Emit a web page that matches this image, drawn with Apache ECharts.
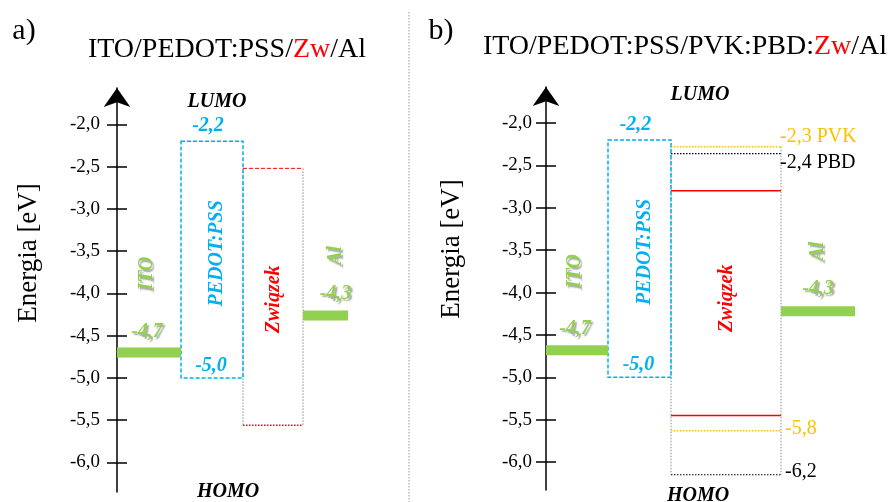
<!DOCTYPE html>
<html>
<head>
<meta charset="utf-8">
<script src="https://cdn.jsdelivr.net/npm/echarts@6/dist/echarts.min.js"></script>
<style>
  html, body { margin: 0; padding: 0; background: #fff; }
  #energyChart { width: 888px; height: 502px; }
</style>
</head>
<body>
<div id="energyChart"></div>
<script>
  // energy levels in eV, as drawn in the figure
  const yTicks = [-6.0, -5.5, -5.0, -4.5, -4.0, -3.5, -3.0, -2.5, -2.0];
  const itoLevel = [-4.7, -4.68];      // panel a, panel b
  const alLevel = [-4.26, -4.22];
  const pedotLevels = [-2.2, -5.0];    // LUMO, HOMO
  const zwLevelsA = [-2.52, -5.56];
  const zwLevelsB = [-2.8, -5.45];
  const pvkLevels = [-2.28, -5.63];
  const pbdLevels = [-2.36, -6.15];
  const levelTexts = ['-4,7', '-4,3', '-2,2', '-5,0', '-2,3 PVK', '-2,4 PBD', '-5,8', '-6,2'];
  const layerNames = ['ITO', 'PEDOT:PSS', 'Związek', 'Al'];

  const GREEN = '#92d050', BLUE = '#00b0f0', RED = '#ff0000', YELLOW = '#ffc000', GRAY = '#8c8c8c';
  const SERIF = '"Liberation Serif", "Times New Roman", serif';

  // column edges (x axis units = px from the energy axis)
  const colsA = { ito: [0, 64], pedot: [64, 126], zw: [126, 186], al: [186, 231] };
  const colsB = { ito: [0, 62], pedot: [62, 125], zw: [125, 235], al: [235, 309] };
  const mid = c => (c[0] + c[1]) / 2;

  const grayDot = { stroke: GRAY, lineWidth: 1, lineDash: [1.5, 1.5] };
  const labelFont = 'italic bold 20px ' + SERIF;
  const shadow = { textShadowColor: 'rgba(0,0,0,0.35)', textShadowBlur: 1.5, textShadowOffsetX: 2, textShadowOffsetY: 2 };

  function panelShapes(c, ito, al, zw, extra) {
    let list = [
      { t: 'vline', x: c.zw[0], y: zw.span, style: grayDot },
      { t: 'vline', x: c.zw[1], y: zw.span, style: grayDot }
    ];
    list = list.concat(extra);
    list.push(
      { t: 'box', x: c.pedot, y: pedotLevels, style: { stroke: BLUE, lineWidth: 1.5, lineDash: [4, 2] } },
      { t: 'bar', x: c.ito, y: ito },
      { t: 'bar', x: c.al, y: al },
      { t: 'text', x: mid(c.ito), y: ito, dx: -2, dy: -21, text: levelTexts[0], color: GREEN, shadow: true },
      { t: 'text', x: mid(c.ito), y: ito, dx: -2, dy: -79, text: layerNames[0], color: GREEN, shadow: true, rot: true },
      { t: 'text', x: mid(c.pedot), y: pedotLevels[0], dx: -4, dy: -15, text: levelTexts[2], color: BLUE },
      { t: 'text', x: mid(c.pedot), y: pedotLevels[1], dx: -1, dy: -12, text: levelTexts[3], color: BLUE },
      { t: 'text', x: mid(c.pedot), y: pedotLevels[0], dx: 5, dy: 112, text: layerNames[1], color: BLUE, rot: true },
      { t: 'text', x: mid(c.zw), y: zw.nameAt, dx: 1, dy: 0, text: layerNames[2], color: RED, rot: true },
      { t: 'text', x: mid(c.al), y: al, dx: zw.alDx, dy: -22, text: levelTexts[1], color: GREEN, shadow: true },
      { t: 'text', x: mid(c.al), y: al, dx: zw.alDx, dy: -60, text: layerNames[3], color: GREEN, shadow: true, rot: true }
    );
    return list;
  }

  const shapesA = panelShapes(colsA, itoLevel[0], alLevel[0],
    { span: zwLevelsA, nameAt: -4.07, alDx: 10 }, [
      { t: 'hline', x: colsA.zw, y: zwLevelsA[0], style: { stroke: RED, lineWidth: 1, lineDash: [4, 2] } },
      { t: 'hline', x: colsA.zw, y: zwLevelsA[1], style: { stroke: RED, lineWidth: 1.5, lineDash: [1.5, 1.5] } }
    ]);

  const shapesB = panelShapes(colsB, itoLevel[1], alLevel[1],
    { span: [pvkLevels[0], pbdLevels[1]], nameAt: -4.07, alDx: 0 }, [
      { t: 'hline', x: colsB.zw, y: pvkLevels[0], style: { stroke: YELLOW, lineWidth: 1.5, lineDash: [1.5, 1.5] } },
      { t: 'hline', x: colsB.zw, y: pbdLevels[0], style: { stroke: '#000', lineWidth: 1.2, lineDash: [1.5, 1.5] } },
      { t: 'hline', x: colsB.zw, y: zwLevelsB[0], style: { stroke: RED, lineWidth: 1.5 } },
      { t: 'hline', x: colsB.zw, y: zwLevelsB[1], style: { stroke: RED, lineWidth: 1.5 } },
      { t: 'hline', x: colsB.zw, y: pvkLevels[1], style: { stroke: YELLOW, lineWidth: 1.5, lineDash: [1.5, 1.5] } },
      { t: 'hline', x: colsB.zw, y: pbdLevels[1], style: { stroke: '#000', lineWidth: 1.2, lineDash: [1.5, 1.5] } },
      { t: 'side', x: colsB.zw[1], y: pvkLevels[0], dx: -1, dy: -10, text: levelTexts[4], color: YELLOW },
      { t: 'side', x: colsB.zw[1], y: pbdLevels[0], dx: -1, dy: 9, text: levelTexts[5], color: '#000' },
      { t: 'side', x: colsB.zw[1], y: pvkLevels[1], dx: 4, dy: -2, text: levelTexts[6], color: YELLOW },
      { t: 'side', x: colsB.zw[1], y: pbdLevels[1], dx: 4, dy: -3, text: levelTexts[7], color: '#000' }
    ]);

  function makeRender(shapes) {
    return function (params, api) {
      const s = shapes[params.dataIndex];
      if (s.t === 'bar') {
        const p0 = api.coord([s.x[0], s.y]);
        const p1 = api.coord([s.x[1], s.y]);
        return { type: 'rect', shape: { x: p0[0], y: p0[1] - 5, width: p1[0] - p0[0], height: 10 }, style: { fill: GREEN } };
      }
      if (s.t === 'box') {
        const p0 = api.coord([s.x[0], s.y[0]]);
        const p1 = api.coord([s.x[1], s.y[1]]);
        return { type: 'rect', shape: { x: p0[0], y: p0[1], width: p1[0] - p0[0], height: p1[1] - p0[1] },
          style: Object.assign({ fill: null }, s.style) };
      }
      if (s.t === 'hline') {
        const p0 = api.coord([s.x[0], s.y]);
        const p1 = api.coord([s.x[1], s.y]);
        return { type: 'line', shape: { x1: p0[0], y1: p0[1], x2: p1[0], y2: p1[1] }, style: s.style };
      }
      if (s.t === 'vline') {
        const p0 = api.coord([s.x, s.y[0]]);
        const p1 = api.coord([s.x, s.y[1]]);
        return { type: 'line', shape: { x1: p0[0], y1: p0[1], x2: p1[0], y2: p1[1] }, style: s.style };
      }
      if (s.t === 'side') {
        const p = api.coord([s.x, s.y]);
        return { type: 'text', x: p[0] + s.dx, y: p[1] + s.dy,
          style: { text: s.text, fill: s.color, font: '20px ' + SERIF, align: 'left', verticalAlign: 'middle' } };
      }
      const p = api.coord([s.x, s.y]);
      const st = { text: s.text, fill: s.color, font: labelFont, align: 'center', verticalAlign: 'middle' };
      if (s.shadow) Object.assign(st, shadow);
      return { type: 'text', x: p[0] + s.dx, y: p[1] + s.dy, rotation: s.rot ? Math.PI / 2 : 0, style: st };
    };
  }

  function energyAxis(grid, min, max, margin, inside) {
    return {
      type: 'value', gridIndex: grid, min: min, max: max, position: 'left',
      splitLine: { show: false },
      axisLine: inside ? { show: false } : {
        show: true, onZero: false, symbol: ['none', 'arrow'], symbolSize: [20, 19],
        lineStyle: { color: '#000', width: 1.5 }
      },
      axisTick: { show: true, inside: inside, length: 10, customValues: yTicks, lineStyle: { color: '#000', width: 1.5 } },
      axisLabel: inside ? { show: false } : {
        show: true, customValues: yTicks, margin: margin, color: '#000',
        fontFamily: SERIF, fontSize: 19,
        formatter: v => v.toFixed(1).replace('.', ',')
      }
    };
  }

  const chart = echarts.init(document.getElementById('energyChart'), null, { renderer: 'canvas' });
  const option = {
    backgroundColor: '#fff',
    animation: false,
    grid: [
      { left: 117, top: 88, width: 240, height: 404 },
      { left: 546, top: 87, width: 320, height: 403 }
    ],
    xAxis: [
      { type: 'value', gridIndex: 0, min: 0, max: 240, show: false },
      { type: 'value', gridIndex: 1, min: 0, max: 320, show: false }
    ],
    yAxis: [
      energyAxis(0, -6.35, -1.569, 17, false),
      energyAxis(0, -6.35, -1.569, 17, true),
      energyAxis(1, -6.33, -1.575, 14, false),
      energyAxis(1, -6.33, -1.575, 14, true)
    ],
    series: [
      { type: 'custom', coordinateSystem: 'cartesian2d', xAxisIndex: 0, yAxisIndex: 0, silent: true, clip: false,
        data: shapesA.map(s => [Array.isArray(s.x) ? s.x[0] : s.x, Array.isArray(s.y) ? s.y[0] : s.y]),
        renderItem: makeRender(shapesA) },
      { type: 'custom', coordinateSystem: 'cartesian2d', xAxisIndex: 1, yAxisIndex: 2, silent: true, clip: false,
        data: shapesB.map(s => [Array.isArray(s.x) ? s.x[0] : s.x, Array.isArray(s.y) ? s.y[0] : s.y]),
        renderItem: makeRender(shapesB) }
    ],
    graphic: [
      { type: 'line', shape: { x1: 409, y1: 12, x2: 409, y2: 502 }, style: { stroke: '#999', lineWidth: 1, lineDash: [1.5, 1.5] } },
      { type: 'text', x: 24, y: 31, style: { text: 'a)', font: '30px ' + SERIF, fill: '#000', align: 'center', verticalAlign: 'middle' } },
      { type: 'text', x: 441, y: 31, style: { text: 'b)', font: '30px ' + SERIF, fill: '#000', align: 'center', verticalAlign: 'middle' } },
      { type: 'text', x: 227, y: 50, style: {
          text: '{n|ITO/PEDOT:PSS/}{r|Zw}{n|/Al}', align: 'center', verticalAlign: 'middle',
          rich: { n: { font: '28px ' + SERIF, fill: '#000' }, r: { font: '28px ' + SERIF, fill: RED } } } },
      { type: 'text', x: 685, y: 47, style: {
          text: '{n|ITO/PEDOT:PSS/PVK:PBD:}{r|Zw}{n|/Al}', align: 'center', verticalAlign: 'middle',
          rich: { n: { font: '28px ' + SERIF, fill: '#000' }, r: { font: '28px ' + SERIF, fill: RED } } } },
      { type: 'text', x: 29, y: 253, rotation: Math.PI / 2, style: { text: 'Energia [eV]', font: '27px ' + SERIF, fill: '#000', align: 'center', verticalAlign: 'middle' } },
      { type: 'text', x: 452, y: 249, rotation: Math.PI / 2, style: { text: 'Energia [eV]', font: '27px ' + SERIF, fill: '#000', align: 'center', verticalAlign: 'middle' } },
      { type: 'text', x: 217, y: 102, style: { text: 'LUMO', font: labelFont, fill: '#000', align: 'center', verticalAlign: 'middle' } },
      { type: 'text', x: 228, y: 492, style: { text: 'HOMO', font: labelFont, fill: '#000', align: 'center', verticalAlign: 'middle' } },
      { type: 'text', x: 700, y: 95, style: { text: 'LUMO', font: labelFont, fill: '#000', align: 'center', verticalAlign: 'middle' } },
      { type: 'text', x: 698, y: 496, style: { text: 'HOMO', font: labelFont, fill: '#000', align: 'center', verticalAlign: 'middle' } }
    ]
  };
  chart.setOption(option);
</script>
</body>
</html>
